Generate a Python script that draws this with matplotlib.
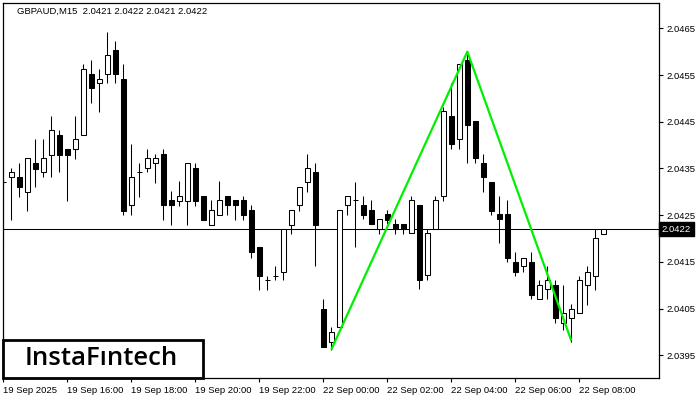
import matplotlib
matplotlib.use('Agg')
import matplotlib.pyplot as plt
from matplotlib.patches import Rectangle
from matplotlib.transforms import blended_transform_factory

# GBPAUD M15 candles, 19 Sep 14:00 -> 22 Sep 08:45
opens = [2.0432, 2.04331, 2.04331, 2.0430, 2.04361, 2.04342, 2.04379, 2.04421, 2.04391, 2.04391,
         2.04422, 2.04552, 2.04532, 2.04552, 2.04603, 2.04541, 2.04271, 2.04342, 2.0435, 2.04361,
         2.04381, 2.04282, 2.04281, 2.04281, 2.0435, 2.04291, 2.04229, 2.04251, 2.04291, 2.04282,
         2.04282, 2.04261, 2.04181, 2.0411, 2.0412, 2.04129, 2.04229, 2.04271, 2.0432, 2.04342,
         2.0405, 2.03979, 2.04011, 2.04271, 2.04282, 2.04272, 2.04261, 2.0422, 2.04252, 2.0423,
         2.0423, 2.04211, 2.04272, 2.04121, 2.0422, 2.04291, 2.04462, 2.04412, 2.04582, 2.04452,
         2.04361, 2.04321, 2.04252, 2.04252, 2.0415, 2.0414, 2.0415, 2.0407, 2.04091, 2.041,
         2.0402, 2.04029, 2.0404, 2.041, 2.0412, 2.0421]
highs = [2.04343, 2.0435, 2.04361, 2.04372, 2.04413, 2.04413, 2.04462, 2.04432, 2.04391, 2.04462,
         2.04574, 2.04582, 2.04562, 2.04642, 2.04622, 2.04573, 2.04402, 2.04361, 2.04391, 2.04381,
         2.04391, 2.04301, 2.04322, 2.04361, 2.04361, 2.04291, 2.04282, 2.04322, 2.04291, 2.04282,
         2.04291, 2.04271, 2.04181, 2.0412, 2.04141, 2.0422, 2.04261, 2.04311, 2.04381, 2.04361,
         2.0407, 2.0401, 2.04261, 2.04291, 2.04321, 2.04291, 2.04282, 2.04241, 2.04261, 2.04241,
         2.0423, 2.04291, 2.04272, 2.0422, 2.04291, 2.04482, 2.04532, 2.04573, 2.04596, 2.04452,
         2.0438, 2.04321, 2.04291, 2.04282, 2.0417, 2.04159, 2.0417, 2.0411, 2.0414, 2.0411,
         2.041, 2.0406, 2.0412, 2.0414, 2.0422, 2.0422]
lows = [2.0419, 2.04239, 2.04289, 2.04259, 2.04311, 2.04331, 2.04331, 2.04342, 2.04281, 2.04371,
        2.04422, 2.04491, 2.04471, 2.04532, 2.04532, 2.04251, 2.04251, 2.04289, 2.04342, 2.04319,
        2.04239, 2.04229, 2.0427, 2.04229, 2.0427, 2.04239, 2.04229, 2.04251, 2.04251, 2.04239,
        2.04239, 2.04159, 2.0409, 2.0409, 2.0411, 2.0411, 2.04209, 2.04259, 2.0430, 2.0414,
        2.03968, 2.03961, 2.04011, 2.04251, 2.04181, 2.04241, 2.0423, 2.0421, 2.0423, 2.0421,
        2.0421, 2.04211, 2.04091, 2.0411, 2.0422, 2.04281, 2.04391, 2.04391, 2.04361, 2.04361,
        2.043, 2.04251, 2.0419, 2.0415, 2.0412, 2.04129, 2.0407, 2.0407, 2.0407, 2.0402,
        2.04004, 2.03979, 2.0404, 2.04058, 2.0409, 2.0421]
closes = [2.0432, 2.04342, 2.04311, 2.04372, 2.04349, 2.04372, 2.04432, 2.04379, 2.04379, 2.04412,
          2.04562, 2.04522, 2.04541, 2.04592, 2.04552, 2.04259, 2.04331, 2.04342, 2.04372, 2.04372,
          2.04271, 2.04271, 2.04291, 2.04361, 2.04281, 2.04239, 2.04261, 2.04282, 2.04271, 2.04271,
          2.04251, 2.0417, 2.0412, 2.0411, 2.0412, 2.0422, 2.04261, 2.04311, 2.0435, 2.04229,
          2.03968, 2.03999, 2.04261, 2.04291, 2.04282, 2.04251, 2.0423, 2.04241, 2.04239, 2.0422,
          2.0422, 2.04282, 2.0411, 2.04211, 2.04282, 2.04473, 2.04402, 2.04573, 2.04442, 2.04372,
          2.04331, 2.04259, 2.04241, 2.04159, 2.04129, 2.04159, 2.0408, 2.041, 2.0411, 2.04029,
          2.0404, 2.0405, 2.0411, 2.04129, 2.042, 2.0422]

# double bottom / top pattern line (bar index, price)
pattern_x = [41, 58, 71]
pattern_y = [2.03962, 2.04600, 2.03981]

last_price = 2.0422
title = "GBPAUD,M15  2.0421 2.0422 2.0421 2.0422"

y_ticks = [2.0395, 2.0405, 2.0415, 2.0425, 2.0435, 2.0445, 2.0455, 2.0465]
x_tick_bars = [0, 8, 16, 24, 32, 40, 48, 56, 64, 72]
x_tick_labels = ["19 Sep 2025", "19 Sep 16:00", "19 Sep 18:00", "19 Sep 20:00", "19 Sep 22:00",
                 "22 Sep 00:00", "22 Sep 02:00", "22 Sep 04:00", "22 Sep 06:00", "22 Sep 08:00"]

plt.rcParams['font.family'] = ['Liberation Sans', 'DejaVu Sans']

fig = plt.figure(figsize=(7, 4), dpi=100)
ax = fig.add_axes([3 / 700, 22 / 400, 656 / 700, 375 / 400])

lw = 0.75
idx = list(range(len(opens)))

# wicks first, bodies on top
ax.vlines(idx, lows, highs, color='black', linewidth=lw, zorder=2)
bottoms = [min(o, c) for o, c in zip(opens, closes)]
heights = [abs(c - o) for o, c in zip(opens, closes)]
faces = ['white' if c >= o else 'black' for o, c in zip(opens, closes)]
ax.bar(idx, heights, bottom=bottoms, width=0.6, color=faces, edgecolor='black',
       linewidth=lw, zorder=3)

ax.plot(pattern_x, pattern_y, color='#00f000', linewidth=1.6, zorder=4, solid_capstyle='butt')

# current price line + label
ax.axhline(last_price, color='black', linewidth=lw, zorder=1)
trans = blended_transform_factory(ax.transAxes, ax.transData)
ax.text(1.004, last_price, f"{last_price:.4f}", transform=trans, ha='left', va='center',
        fontsize=6.8, color='white', clip_on=False,
        bbox=dict(boxstyle='square,pad=0.3', facecolor='black', edgecolor='black'))

ax.set_xlim(-0.04, 81.96)
ax.set_ylim(2.039012, 2.047042)

ax.yaxis.tick_right()
ax.set_yticks(y_ticks)
ax.set_yticklabels([f"{v:.4f}" for v in y_ticks])
ax.set_xticks(x_tick_bars)
ax.set_xticklabels(x_tick_labels, ha='left')
ax.tick_params(axis='both', length=3, width=0.8, labelsize=6.8, colors='black', pad=2.5)
ax.tick_params(axis='x', pad=3)
for s in ax.spines.values():
    s.set_linewidth(0.9)
    s.set_color('black')

fig.text(17 / 700, 1 - 11 / 400, title, fontsize=6.8, va='center', ha='left')

# logo box in the lower left corner
fig.patches.append(Rectangle((3 / 700, 22 / 400), 200 / 700, 38 / 400, transform=fig.transFigure,
                             facecolor='white', edgecolor='black', linewidth=2, zorder=5))
fig.text(101.5 / 700, 1 - 358.5 / 400, "InstaF\u0131ntech", fontsize=18.5, fontweight='semibold',
         family=['Open Sans', 'DejaVu Sans'], ha='center', va='center', zorder=6)

fig.savefig('out.png', dpi=100)
